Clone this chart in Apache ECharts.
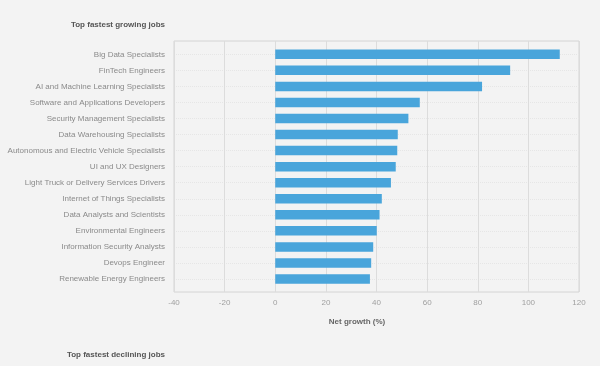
<!DOCTYPE html>
<html>
<head>
<meta charset="utf-8">
<script src="https://cdn.jsdelivr.net/npm/echarts@6/dist/echarts.min.js"></script>
<style>
html,body{margin:0;padding:0;background:#f3f3f3;}
#chart{width:600px;height:366px;}
</style>
</head>
<body>
<div id="chart"></div>
<script>
const categories = [
  "Big Data Specialists",
  "FinTech Engineers",
  "AI and Machine Learning Specialists",
  "Software and Applications Developers",
  "Security Management Specialists",
  "Data Warehousing Specialists",
  "Autonomous and Electric Vehicle Specialists",
  "UI and UX Designers",
  "Light Truck or Delivery Services Drivers",
  "Internet of Things Specialists",
  "Data Analysts and Scientists",
  "Environmental Engineers",
  "Information Security Analysts",
  "Devops Engineer",
  "Renewable Energy Engineers"
];
const netGrowth = [112.4, 92.8, 81.7, 57.1, 52.6, 48.4, 48.2, 47.6, 45.7, 42.1, 41.2, 40.1, 38.7, 37.9, 37.4];
const xTicks = { min: -40, max: 120, interval: 20 };
const titleTop = "Top fastest growing jobs";
const titleBottom = "Top fastest declining jobs";
const axisTitle = "Net growth (%)";

const FONT = '"Liberation Sans", Arial, sans-serif';
const chart = echarts.init(document.getElementById('chart'));
chart.setOption({
  backgroundColor: '#f3f3f3',
  animation: false,
  title: [
    { text: titleTop, right: 430, top: 16,
      textStyle: { fontFamily: FONT, fontSize: 8, fontWeight: 'bold', color: '#555' } },
    { text: axisTitle, left: 352, top: 313, textAlign: 'center',
      textStyle: { fontFamily: FONT, fontSize: 8, fontWeight: 'bold', color: '#666' } },
    { text: titleBottom, right: 430, top: 346,
      textStyle: { fontFamily: FONT, fontSize: 8, fontWeight: 'bold', color: '#555' } }
  ],
  grid: [
    { left: 174, right: 21, top: 41, bottom: 74, show: true, borderColor: '#d4d4d4', borderWidth: 1,
      backgroundColor: 'transparent', containLabel: false, outerBoundsMode: 'none' },
    { left: 174, right: 21, top: 54.3, bottom: 87, containLabel: false, outerBoundsMode: 'none' }
  ],
  xAxis: [
    { gridIndex: 0, type: 'value', min: xTicks.min, max: xTicks.max, interval: xTicks.interval,
      axisLine: { show: false }, axisTick: { show: false },
      axisLabel: { color: '#a0a0a0', fontSize: 8, fontFamily: FONT, margin: 7 },
      splitLine: { show: true, lineStyle: { color: '#dcdcdc', width: 1 } } },
    { gridIndex: 1, type: 'value', min: xTicks.min, max: xTicks.max, interval: xTicks.interval, show: false }
  ],
  yAxis: [
    { gridIndex: 0, type: 'value', show: false, splitLine: { show: false } },
    { gridIndex: 1, type: 'category', data: categories, inverse: true, boundaryGap: false,
      axisLine: { show: false }, axisTick: { show: false },
      axisLabel: { color: '#8a8a8a', fontSize: 8, fontFamily: FONT, margin: 9 },
      splitLine: { show: true, lineStyle: { color: '#e6e6e6', type: 'dotted', width: 1 } } }
  ],
  series: [
    { type: 'bar', xAxisIndex: 1, yAxisIndex: 1, data: netGrowth, barWidth: 9.5,
      itemStyle: { color: '#49a5db' } }
  ]
});
</script>
</body>
</html>
